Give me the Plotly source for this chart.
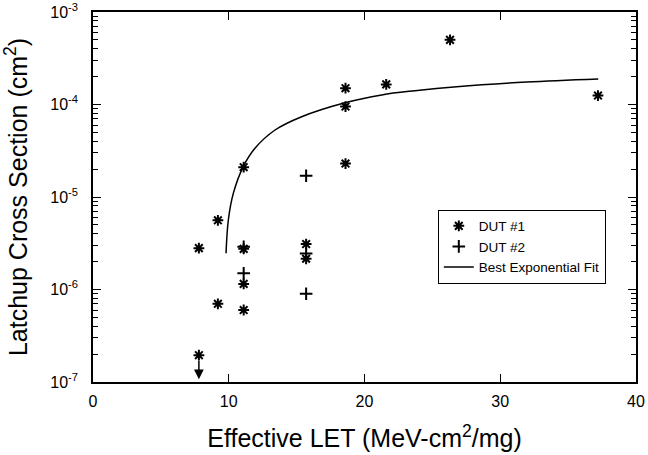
import plotly.graph_objects as go
import numpy as np

# DUT #1 (asterisk)
dut1_let = [7.8, 7.8, 9.2, 9.2, 11.1, 11.1, 11.1, 11.1, 15.7, 15.7, 18.6, 18.6, 18.6, 21.6, 26.3, 37.2]
dut1_xs = [2.8e-6, 1.95e-7, 5.6e-6, 7.0e-7, 2.1e-5, 2.75e-6, 1.15e-6, 6.0e-7, 3.1e-6, 2.15e-6, 1.5e-4, 9.5e-5, 2.3e-5, 1.65e-4, 5.0e-4, 1.25e-4]

# DUT #2 (plus)
dut2_let = [11.1, 11.1, 15.7, 15.7, 15.7]
dut2_xs = [2.9e-6, 1.5e-6, 1.7e-5, 2.45e-6, 9.0e-7]

# Best exponential fit
fit_let = [9.80, 9.97, 10.34, 11.07, 11.93, 13.41, 15.37, 18.56, 21.27, 23.72, 26.8, 31.95, 37.22]
fit_xs = [2.46e-6, 5.64e-6, 1.10e-5, 2.13e-5, 3.36e-5, 5.30e-5, 7.38e-5, 1.045e-4, 1.27e-4, 1.41e-4, 1.56e-4, 1.75e-4, 1.89e-4]

# upper-limit (arrow) point
limit_let = [7.8]
limit_xs = [1.95e-7]

x_ticks = [0, 10, 20, 30, 40]
y_ticks = [1e-7, 1e-6, 1e-5, 1e-4, 1e-3]
y_ticklabels = ["10<sup>-7</sup>", "10<sup>-6</sup>", "10<sup>-5</sup>", "10<sup>-4</sup>", "10<sup>-3</sup>"]
y_minor_ticks = [m * d for d in y_ticks[:-1] for m in range(2, 10)]

FONT = "Liberation Sans, Arial, sans-serif"

fig = go.Figure()
fig.add_trace(go.Scatter(
    x=dut1_let, y=dut1_xs, mode="markers", name="DUT #1",
    marker=dict(symbol="asterisk-open", size=9, color="black",
                line=dict(color="black", width=2)),
))
fig.add_trace(go.Scatter(
    x=dut2_let, y=dut2_xs, mode="markers", name="DUT #2",
    marker=dict(symbol="cross-thin-open", size=9, color="black",
                line=dict(color="black", width=2)),
))
fig.add_trace(go.Scatter(
    x=fit_let, y=fit_xs, mode="lines", name="Best Exponential Fit",
    line=dict(color="black", width=1.5, shape="spline"),
))

for lx, ly in zip(limit_let, limit_xs):
    fig.add_annotation(
        x=lx, y=-6.97, ax=0, ay=-20, xref="x", yref="y",
        axref="pixel", ayref="pixel", showarrow=True, arrowhead=2,
        arrowsize=1.3, arrowwidth=1.5, arrowcolor="black", text="",
    )

fig.update_layout(
    width=648, height=455,
    margin=dict(l=93, r=12, t=12, b=73),
    plot_bgcolor="white", paper_bgcolor="white",
    font=dict(family=FONT, color="black", size=16),
    showlegend=True,
    legend=dict(
        x=0.635, y=0.466, xanchor="left", yanchor="top",
        bordercolor="black", borderwidth=1, bgcolor="white",
        font=dict(family=FONT, size=13.5, color="black"),
        tracegroupgap=0, itemwidth=30,
    ),
)
fig.update_xaxes(
    range=[0, 40], tickvals=x_ticks, ticks="inside", ticklen=8, tickwidth=1,
    tickcolor="black", showline=True, linecolor="black", linewidth=1.5,
    mirror="ticks", showgrid=False, zeroline=False, automargin=False,
    tickfont=dict(family=FONT, size=16), ticklabelstandoff=4,
    title=dict(text="Effective LET (MeV-cm<sup>2</sup>/mg)", font=dict(family=FONT, size=25), standoff=21),
)
fig.update_yaxes(
    type="log", range=[-7, -3], tickvals=y_ticks, ticktext=y_ticklabels,
    ticks="inside", ticklen=8, tickwidth=1, tickcolor="black",
    minor=dict(tickmode="array", tickvals=y_minor_ticks, ticks="inside", ticklen=5,
               tickcolor="black", tickwidth=1, showgrid=False),
    showline=True, linecolor="black", linewidth=1.5, mirror="ticks",
    showgrid=False, zeroline=False, automargin=False,
    tickfont=dict(family=FONT, size=16), ticklabelstandoff=10,
    title=dict(text="Latchup Cross Section (cm<sup>2</sup>)", font=dict(family=FONT, size=25), standoff=16),
)

fig.write_html("out.html", config={"displayModeBar": False},
               post_script="document.body.style.margin='0';")
